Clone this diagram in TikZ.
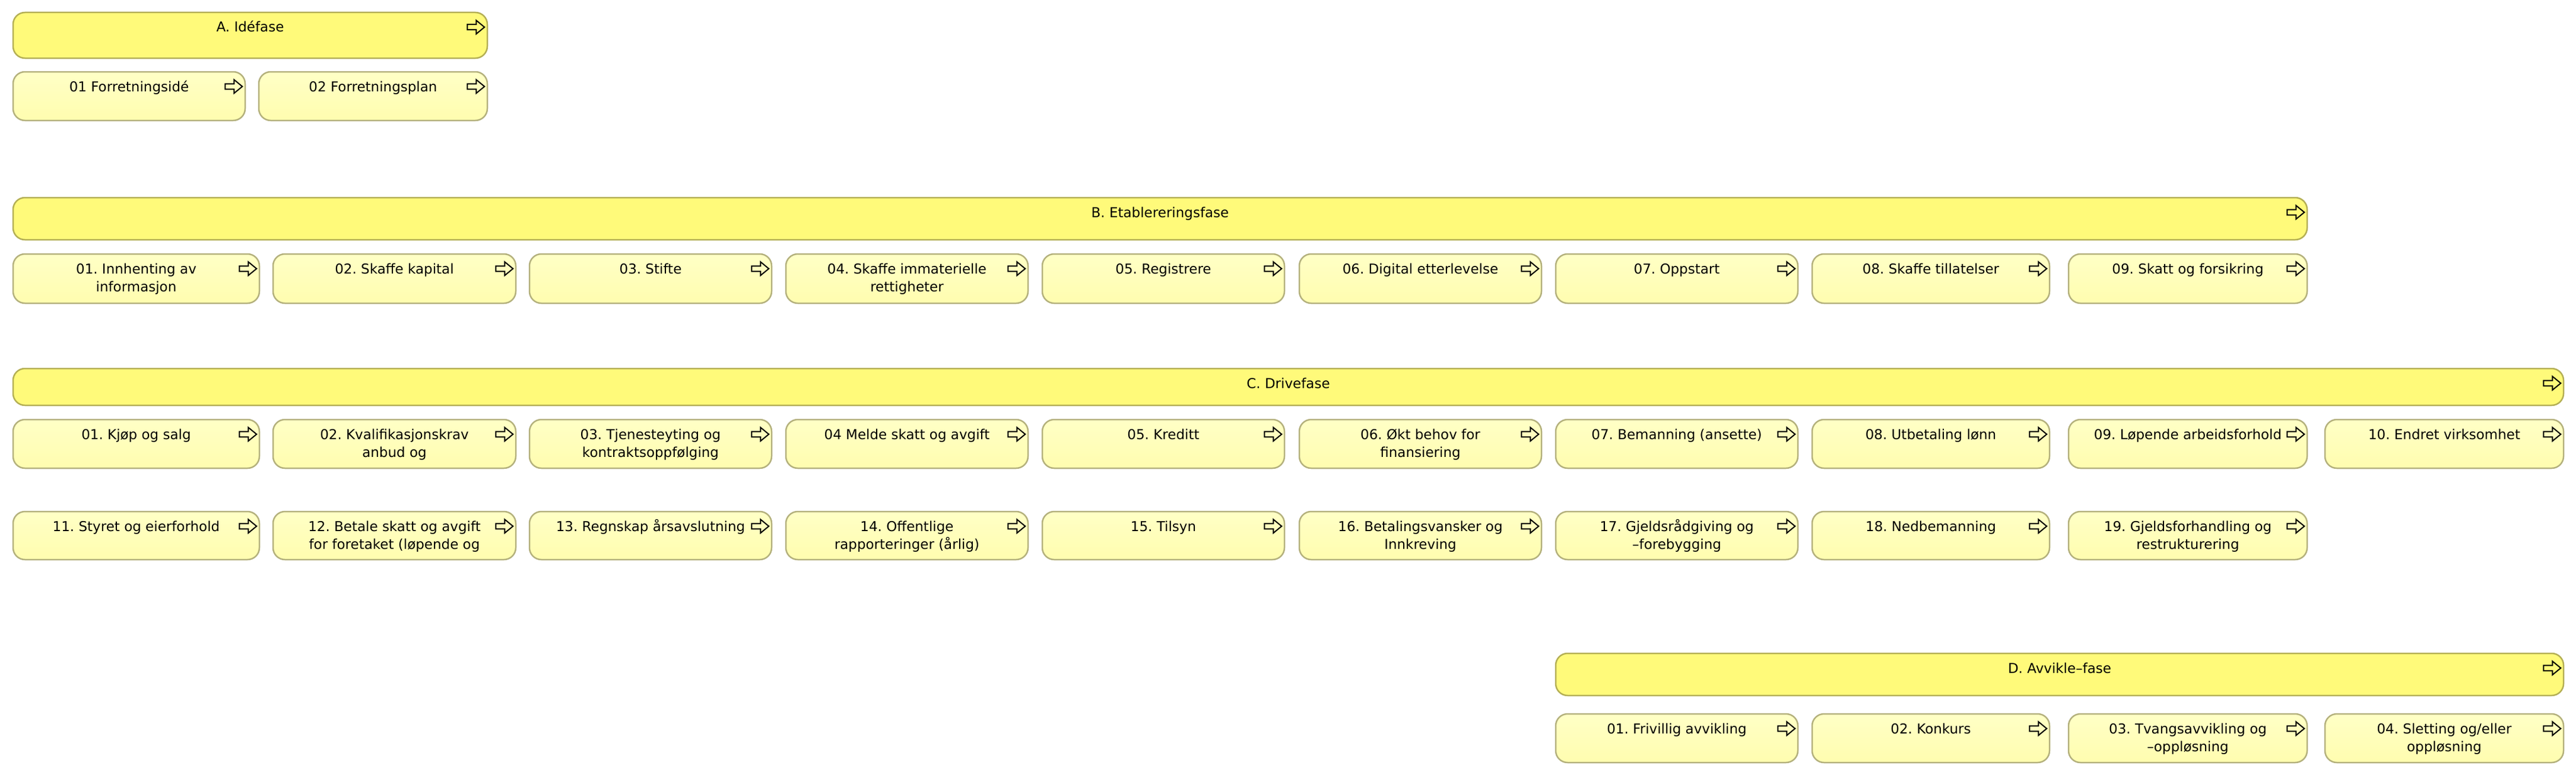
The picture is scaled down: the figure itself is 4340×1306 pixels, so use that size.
\documentclass[tikz,border=0pt]{standalone}
\usepackage{fontspec}
\setmainfont{DejaVu Sans}
\frenchspacing
\definecolor{hdrfill}{RGB}{255,250,122}
\definecolor{hdrline}{RGB}{180,175,85}
\definecolor{itmtop}{RGB}{255,255,198}
\definecolor{itmbot}{RGB}{255,253,175}
\definecolor{itmline}{RGB}{180,177,125}
\newcommand{\boxlbl}[1]{\begin{tabular}[t]{@{}c@{}}#1\end{tabular}}
\tikzset{
  hdr/.style={draw=hdrline, fill=hdrfill, line width=2.5pt, rounded corners=20pt, inner sep=0pt},
  itm/.style={draw=itmline, top color=itmtop, bottom color=itmbot, line width=2.5pt, rounded corners=20pt, inner sep=0pt},
  lbl/.style={anchor=base, inner sep=0pt, font=\fontsize{23}{30}\selectfont\frenchspacing},
  icon/.style={draw=black, line width=2pt, line join=miter},
}
% #1 name, #2 style, #3 x1, #4 x2, #5 y1, #6 y2, #7 text
\newcommand{\elem}[7]{%
  \node[#2, minimum width={#4pt-#3pt}, minimum height={#6pt-#5pt}] (#1) at ({(#3+#4)/2},{(#5+#6)/2}) {};
  \node[lbl] (#1-t) at ({(#3+#4)/2},{#5+33}) {\boxlbl{#7}};
  \draw[icon] ([xshift=-6pt,yshift=-26pt]#1.north east) -- ++(-14pt,11.5pt) -- ++(0pt,-7pt) -- ++(-15pt,0pt) -- ++(0pt,-9pt) -- ++(15pt,0pt) -- ++(0pt,-7pt) -- cycle;
}
\begin{document}
\begin{tikzpicture}[x=1pt,y=-1pt]
\useasboundingbox (0,0) rectangle (4340,1306);
% A
\elem{ha}{hdr}{22}{821}{21}{98}{A. Idéfase}
\elem{a1}{itm}{22}{413}{121}{203}{01 Forretningsidé}
\elem{a2}{itm}{436}{821}{121}{203}{02 Forretningsplan}
% B
\elem{hb}{hdr}{22}{3887}{333}{404}{B. Etablereringsfase}
\elem{b1}{itm}{22}{437}{428}{511}{01. Innhenting av\\informasjon}
\elem{b2}{itm}{460}{869}{428}{511}{02. Skaffe kapital}
\elem{b3}{itm}{892}{1300}{428}{511}{03. Stifte}
\elem{b4}{itm}{1324}{1732}{428}{511}{04. Skaffe immaterielle\\rettigheter}
\elem{b5}{itm}{1756}{2164}{428}{511}{05. Registrere}
\elem{b6}{itm}{2189}{2597}{428}{511}{06. Digital etterlevelse}
\elem{b7}{itm}{2621}{3029}{428}{511}{07. Oppstart}
\elem{b8}{itm}{3053}{3453}{428}{511}{08. Skaffe tillatelser}
\elem{b9}{itm}{3485}{3887}{428}{511}{09. Skatt og forsikring}
% C
\elem{hc}{hdr}{22}{4319}{621}{683}{C. Drivefase}
\elem{c1}{itm}{22}{437}{707}{789}{01. Kjøp og salg}
\elem{c2}{itm}{460}{869}{707}{789}{02. Kvalifikasjonskrav\\anbud og}
\elem{c3}{itm}{892}{1300}{707}{789}{03. Tjenesteyting og\\kontraktsoppfølging}
\elem{c4}{itm}{1324}{1732}{707}{789}{04 Melde skatt og avgift}
\elem{c5}{itm}{1756}{2164}{707}{789}{05. Kreditt}
\elem{c6}{itm}{2189}{2597}{707}{789}{06. Økt behov for\\finansiering}
\elem{c7}{itm}{2621}{3029}{707}{789}{07. Bemanning (ansette)}
\elem{c8}{itm}{3053}{3453}{707}{789}{08. Utbetaling lønn}
\elem{c9}{itm}{3485}{3887}{707}{789}{09. Løpende arbeidsforhold}
\elem{c10}{itm}{3917}{4319}{707}{789}{10. Endret virksomhet}
\elem{c11}{itm}{22}{437}{862}{943}{11. Styret og eierforhold}
\elem{c12}{itm}{460}{869}{862}{943}{12. Betale skatt og avgift\\for foretaket (løpende og}
\elem{c13}{itm}{892}{1300}{862}{943}{13. Regnskap årsavslutning}
\elem{c14}{itm}{1324}{1732}{862}{943}{14. Offentlige\\rapporteringer (årlig)}
\elem{c15}{itm}{1756}{2164}{862}{943}{15. Tilsyn}
\elem{c16}{itm}{2189}{2597}{862}{943}{16. Betalingsvansker og\\Innkreving}
\elem{c17}{itm}{2621}{3029}{862}{943}{17. Gjeldsrådgiving og\\–forebygging}
\elem{c18}{itm}{3053}{3453}{862}{943}{18. Nedbemanning}
\elem{c19}{itm}{3485}{3887}{862}{943}{19. Gjeldsforhandling og\\restrukturering}
% D
\elem{hd}{hdr}{2621}{4319}{1101}{1172}{D. Avvikle–fase}
\elem{d1}{itm}{2621}{3029}{1203}{1285}{01. Frivillig avvikling}
\elem{d2}{itm}{3053}{3453}{1203}{1285}{02. Konkurs}
\elem{d3}{itm}{3485}{3887}{1203}{1285}{03. Tvangsavvikling og\\–oppløsning}
\elem{d4}{itm}{3917}{4319}{1203}{1285}{04. Sletting og/eller\\oppløsning}
\end{tikzpicture}
\end{document}
